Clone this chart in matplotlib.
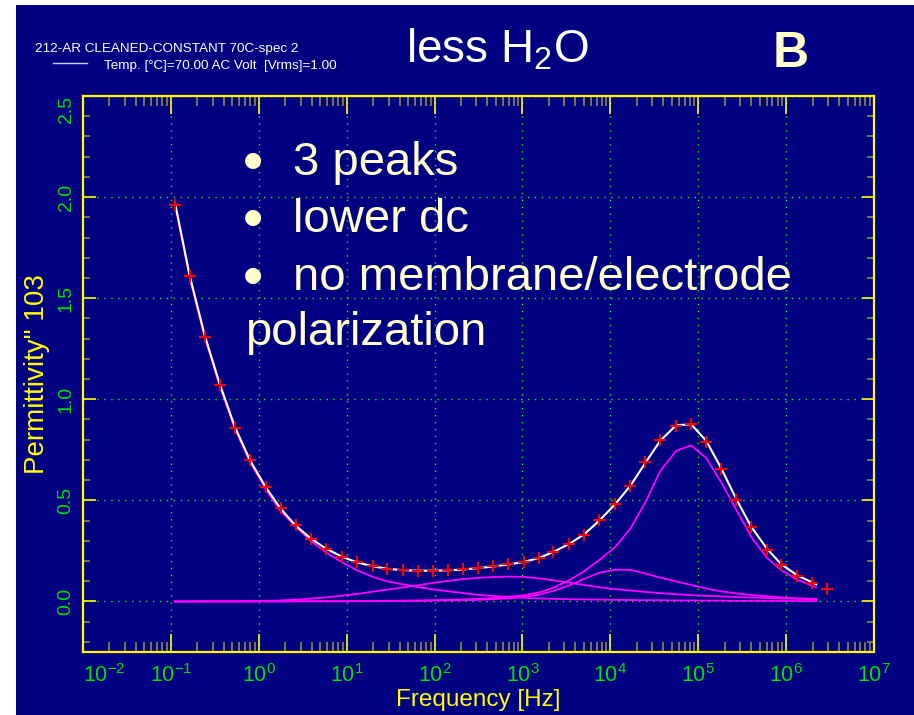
import matplotlib
matplotlib.use("Agg")
import matplotlib.pyplot as plt
from matplotlib.patches import Rectangle
from matplotlib.lines import Line2D
from matplotlib.ticker import LogLocator, MultipleLocator, NullFormatter

plt.rcParams['font.family'] = ['Liberation Sans', 'DejaVu Sans']
plt.rcParams['mathtext.fontset'] = 'custom'
plt.rcParams['mathtext.rm'] = 'Liberation Sans'
plt.rcParams['mathtext.it'] = 'Liberation Sans:italic'
plt.rcParams['mathtext.bf'] = 'Liberation Sans:bold'

# measured points (red +)
meas_freq = [0.111, 0.164, 0.243, 0.360, 0.533, 0.791, 1.20, 1.78, 2.63, 3.90,
             5.77, 8.77, 13.0, 19.7, 28.5, 43.3, 64.1, 94.9, 144, 208,
             316, 468, 693, 1054, 1560, 2250, 3420, 5070, 7500, 11400,
             16900, 25000, 37000, 56200, 83200, 123000, 182000, 270000, 400000, 608000,
             877000, 1.33e6, 1.97e6, 2.92e6]
meas_eps = [1.96, 1.61, 1.31, 1.07, 0.86, 0.70, 0.567, 0.46, 0.377, 0.311,
            0.261, 0.22, 0.195, 0.174, 0.162, 0.155, 0.151, 0.151, 0.154, 0.159,
            0.165, 0.174, 0.184, 0.196, 0.217, 0.247, 0.286, 0.331, 0.403, 0.481,
            0.570, 0.688, 0.799, 0.868, 0.877, 0.790, 0.655, 0.504, 0.366, 0.253,
            0.179, 0.126, 0.091, 0.060]

# fitted curve (white) and its components (magenta)
fit_freq = [0.111, 0.164, 0.243, 0.360, 0.533, 0.791, 1.20, 1.78, 2.63, 3.90,
            5.77, 8.77, 13.0, 19.7, 28.5, 43.3, 64.1, 94.9, 144, 208,
            316, 468, 693, 1054, 1560, 2250, 3420, 5070, 7500, 11400,
            16900, 25000, 37000, 56200, 83200, 123000, 182000, 270000, 400000, 608000,
            877000, 1.33e6, 2.2e6]
fit_total = [1.975, 1.61, 1.315, 1.075, 0.865, 0.70, 0.565, 0.458, 0.375, 0.312,
             0.262, 0.222, 0.194, 0.174, 0.162, 0.155, 0.152, 0.152, 0.154, 0.158,
             0.165, 0.173, 0.183, 0.196, 0.216, 0.245, 0.285, 0.333, 0.400, 0.482,
             0.572, 0.685, 0.795, 0.872, 0.876, 0.795, 0.66, 0.508, 0.37, 0.26,
             0.185, 0.13, 0.085]
comp_lowf = [1.965, 1.60, 1.305, 1.065, 0.855, 0.69, 0.555, 0.445, 0.37, 0.30,
             0.243, 0.195, 0.155, 0.122, 0.100, 0.085, 0.071, 0.060, 0.050, 0.042,
             0.032, 0.027, 0.022, 0.018, 0.015, 0.013, 0.011, 0.010, 0.009, 0.008,
             0.007, 0.006, 0.006, 0.005, 0.005, 0.004, 0.004, 0.003, 0.003, 0.003,
             0.002, 0.002, 0.002]
comp_peak1 = [0.000, 0.000, 0.001, 0.001, 0.001, 0.002, 0.003, 0.005, 0.009, 0.014,
              0.020, 0.028, 0.037, 0.048, 0.058, 0.069, 0.080, 0.091, 0.102, 0.110,
              0.117, 0.121, 0.123, 0.121, 0.114, 0.104, 0.093, 0.081, 0.070, 0.061,
              0.054, 0.047, 0.041, 0.036, 0.031, 0.028, 0.025, 0.022, 0.019, 0.017,
              0.015, 0.013, 0.011]
comp_peak2 = [0.000, 0.000, 0.000, 0.000, 0.000, 0.000, 0.000, 0.000, 0.001, 0.001,
              0.001, 0.001, 0.001, 0.001, 0.002, 0.002, 0.003, 0.004, 0.005, 0.006,
              0.008, 0.011, 0.015, 0.022, 0.034, 0.052, 0.080, 0.112, 0.142, 0.157,
              0.156, 0.138, 0.118, 0.099, 0.081, 0.064, 0.050, 0.040, 0.032, 0.025,
              0.020, 0.016, 0.012]
comp_peak3 = [0.000, 0.000, 0.000, 0.000, 0.000, 0.000, 0.001, 0.001, 0.001, 0.001,
              0.001, 0.001, 0.002, 0.002, 0.003, 0.004, 0.005, 0.006, 0.008, 0.010,
              0.013, 0.017, 0.023, 0.031, 0.045, 0.068, 0.105, 0.15, 0.205, 0.27,
              0.36, 0.49, 0.645, 0.745, 0.772, 0.71, 0.59, 0.455, 0.32, 0.215,
              0.155, 0.108, 0.07]

decades = [1e-2, 1e-1, 1e0, 1e1, 1e2, 1e3, 1e4, 1e5, 1e6, 1e7]
xtick_labels = [r'$\mathregular{10^{-2}}$', r'$\mathregular{10^{-1}}$', r'$\mathregular{10^{0}}$',
                r'$\mathregular{10^{1}}$', r'$\mathregular{10^{2}}$', r'$\mathregular{10^{3}}$',
                r'$\mathregular{10^{4}}$', r'$\mathregular{10^{5}}$', r'$\mathregular{10^{6}}$',
                r'$\mathregular{10^{7}}$']
yticks = [0.0, 0.5, 1.0, 1.5, 2.0, 2.5]
ytick_labels = ['0.0', '0.5', '1.0', '1.5', '2.0', '2.5']

navy = '#000080'
green = '#00e000'
cream = '#ffffcc'
olive = '#8c8c46'
W, H = 914.0, 715.0

fig = plt.figure(figsize=(9.14, 7.15), dpi=100, facecolor='white')
fig.add_artist(Rectangle((16 / W, 0), 1 - 16 / W, 1 - 5 / H, transform=fig.transFigure,
                         facecolor=navy, edgecolor='none', zorder=-10))

ax = fig.add_axes([83 / W, 1 - 652 / H, (874 - 83) / W, (652 - 96) / H])
ax.set_facecolor(navy)
ax.set_xscale('log')
ax.set_xlim(1e-2, 1e7)
ax.set_ylim(-0.25, 2.5)

for comp in [comp_lowf, comp_peak1, comp_peak2, comp_peak3]:
    ax.plot(fit_freq, comp, color='#ff00ff', linewidth=1.3, zorder=3)
ax.plot(fit_freq, fit_total, color='white', linewidth=1.5, zorder=4)
ax.plot(meas_freq, meas_eps, '+', color='red', markersize=9, markeredgewidth=1.5, zorder=5)

# axes styling
for s in ax.spines.values():
    s.set_color('yellow')
    s.set_linewidth(1.6)
ax.set_axisbelow(True)
ax.grid(True, which='major', color='#00ff00', linestyle=(0, (1, 4)), linewidth=1.0)

ax.set_xticks(decades, labels=xtick_labels)
ax.xaxis.set_minor_locator(LogLocator(base=10, subs=range(2, 10), numticks=100))
ax.xaxis.set_minor_formatter(NullFormatter())
ax.set_yticks(yticks, labels=ytick_labels, rotation=90, va='center')
ax.yaxis.set_minor_locator(MultipleLocator(0.1))

ax.tick_params(axis='x', which='major', direction='in', length=13, width=1.2, color='yellow',
               top=True, labelcolor=green, labelsize=15.5, pad=9)
ax.tick_params(axis='x', which='minor', direction='in', length=7, width=1.2, color=olive, top=True)
ax.tick_params(axis='y', which='major', direction='in', length=9, width=1.2, color='yellow',
               right=True, labelcolor=green, labelsize=14, pad=6)
ax.tick_params(axis='y', which='minor', direction='in', length=5, width=1.2, color=olive, right=True)
ax.get_xticklabels()[0].set_ha('left')
ax.get_yticklabels()[-1].set_va('top')

# axis titles
fig.text(478 / W, 1 - 700 / H, 'Frequency [Hz]', color='yellow', fontsize=17.5, ha='center', va='center')
fig.text(37 / W, 1 - 374 / H, 'Permittivity" 103', color='yellow', fontsize=20,
         rotation=90, ha='center', va='center')

# header
fig.text(35 / W, 1 - 52 / H, '212-AR CLEANED-CONSTANT 70C-spec 2', color='white', fontsize=9.7, va='baseline')
fig.add_artist(Line2D([53 / W, 87 / W], [1 - 63 / H, 1 - 63 / H], transform=fig.transFigure,
                      color='#d0d0ff', linewidth=1))
fig.text(104 / W, 1 - 69 / H, 'Temp. [\u00b0C]=70.00 AC Volt  [Vrms]=1.00', color='white', fontsize=9.7, va='baseline')
fig.text(497 / W, 1 - 62 / H, r'less H$\mathregular{_2}$O', color='white', fontsize=33, ha='center', va='baseline')
fig.text(791 / W, 1 - 67 / H, 'B', color=cream, fontsize=36, fontweight='bold', ha='center', va='baseline')

# bullet notes
bullet_lines = ['3 peaks', 'lower dc', 'no membrane/electrode']
for i, txt in enumerate(bullet_lines):
    yb = 175 + 57.5 * i
    fig.text(253 / W, 1 - (yb - 15) / H, '\u25cf', color=cream, fontsize=15, ha='center', va='center',
             family=['DejaVu Sans'])
    fig.text(293 / W, 1 - yb / H, txt, color=cream, fontsize=34, va='baseline')
fig.text(245 / W, 1 - 345 / H, 'polarization', color=cream, fontsize=34, va='baseline')

fig.savefig('out.png', dpi=100, facecolor=fig.get_facecolor())
